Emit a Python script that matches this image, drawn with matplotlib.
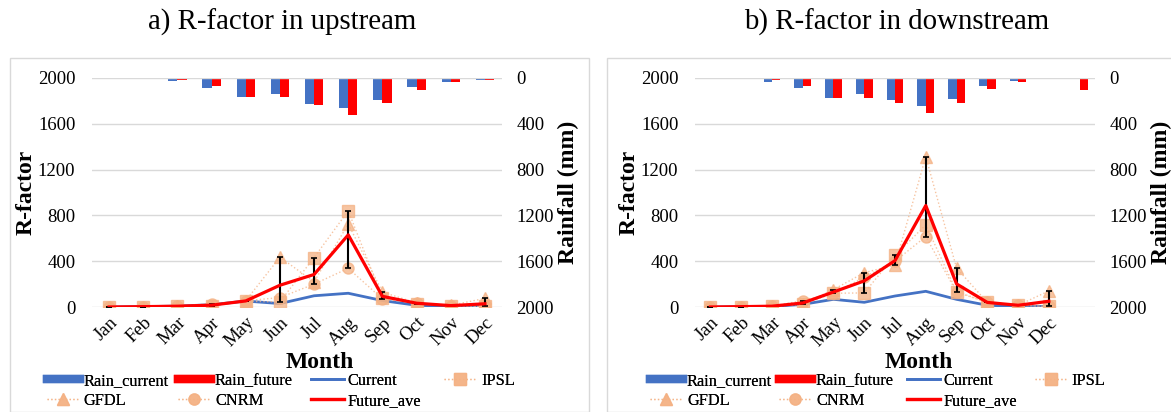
import matplotlib
matplotlib.use("Agg")
import matplotlib.pyplot as plt
import numpy as np
from matplotlib.patches import Rectangle
from matplotlib.lines import Line2D

plt.rcParams["font.family"] = ["Liberation Serif", "DejaVu Serif"]

months = ["Jan", "Feb", "Mar", "Apr", "May", "Jun", "Jul", "Aug", "Sep", "Oct", "Nov", "Dec"]

# a) upstream
up_rain_current = [2, 6, 29, 87, 168, 139, 226, 258, 188, 81, 32, 14]
up_rain_future = [2, 9, 20, 70, 168, 168, 238, 319, 220, 101, 38, 14]
up_current = [0, 3, 8, 20, 52, 30, 98, 120, 56, 15, 5, 8]
up_ipsl = [0, 2, 5, 10, 50, 45, 432, 840, 80, 30, 10, 5]
up_gfdl = [0, 3, 8, 10, 55, 435, 220, 725, 130, 35, 15, 75]
up_cnrm = [0, 3, 8, 28, 55, 82, 200, 338, 70, 35, 12, 5]
up_future_ave = [0, 3, 7, 16, 53, 190, 284, 630, 93, 33, 12, 28]

# b) downstream (the rainfall bars have a 13th, unlabelled category)
dn_labels = months + [""]
dn_rain_current = [2, 9, 33, 83, 172, 139, 193, 246, 187, 74, 24, 6, 0]
dn_rain_future = [2, 9, 21, 68, 172, 172, 222, 308, 216, 92, 33, 12, 107]
dn_current = [0, 2, 5, 23, 67, 41, 96, 137, 67, 15, 5, 5]
dn_ipsl = [0, 2, 5, 25, 120, 123, 450, 717, 135, 40, 15, 5]
dn_gfdl = [0, 3, 8, 25, 152, 300, 367, 1313, 340, 40, 15, 140]
dn_cnrm = [0, 3, 8, 55, 120, 260, 400, 615, 130, 40, 15, 5]
dn_future_ave = [0, 3, 7, 35, 131, 228, 405, 886, 202, 40, 15, 50]

BLUE = "#4472C4"
RED = "#FF0000"
ORANGE = "#F4B183"
GRID = "#D9D9D9"

W, H = 1171, 412


def fx(px):
    return px / W


def fy(py):
    return 1 - py / H


def draw_panel(fig, rect, labels, rain_cur, rain_fut, cur, ipsl, gfdl, cnrm, fut_ave,
               month_px, legend_cols_px):
    ax = fig.add_axes(rect)
    ax2 = ax.twinx()
    ax.set_zorder(ax2.get_zorder() + 1)
    ax.patch.set_visible(False)

    n = len(labels)
    xb = np.arange(len(rain_cur))
    bw = 0.27
    ax2.bar(xb - bw / 2, rain_cur, width=bw, color=BLUE, label="Rain_current")
    ax2.bar(xb + bw / 2, rain_fut, width=bw, color=RED, label="Rain_future")
    ax2.set_ylim(2000, 0)
    ax2.set_yticks(np.arange(0, 2001, 400))

    x = np.arange(len(cur))
    ax.plot(x, cur, color=BLUE, lw=2, label="Current")
    mk = dict(ls=":", lw=1.0, color=ORANGE, markersize=8, markerfacecolor=ORANGE,
              markeredgecolor=ORANGE, alpha=0.75)
    ax.plot(x, ipsl, marker="s", label="IPSL", **mk)
    ax.plot(x, gfdl, marker="^", label="GFDL", **mk)
    ax.plot(x, cnrm, marker="o", label="CNRM", **mk)
    models = np.array([ipsl, gfdl, cnrm])
    ave = np.array(fut_ave)
    lo = np.clip(ave - models.min(axis=0), 0, None)
    hi = np.clip(models.max(axis=0) - ave, 0, None)
    ax.errorbar(x, ave, yerr=[lo, hi], fmt="none", ecolor="black", elinewidth=1.5,
                capsize=2.5, capthick=1.2, zorder=4)
    ax.plot(x, fut_ave, color=RED, lw=2.3, label="Future_ave", zorder=5)

    ax.set_xlim(-0.5, n - 0.5)
    ax.set_ylim(0, 2000)
    ax.set_yticks(np.arange(0, 2001, 400))
    ax.set_xticks(np.arange(n))
    ax.set_xticklabels(labels, rotation=45, ha="right", rotation_mode="anchor")
    ax.grid(axis="y", color=GRID, lw=1)
    ax.set_axisbelow(True)
    for a in (ax, ax2):
        for s in a.spines.values():
            s.set_visible(False)
        a.tick_params(length=0, labelsize=13.5)
    ax.tick_params(axis="y", pad=12)
    ax2.tick_params(axis="y", pad=10.5)
    ax.tick_params(axis="x", pad=5)

    ax.set_ylabel("R-factor", fontsize=17, fontweight="bold", labelpad=1)
    ax2.set_ylabel("Rainfall (mm)", fontsize=17, fontweight="bold", labelpad=3)
    fig.text(fx(month_px), fy(352), "Month", ha="center", va="top",
             fontsize=17, fontweight="bold")

    handles_a, labels_a = ax2.get_legend_handles_labels()
    handles_b, labels_b = ax.get_legend_handles_labels()
    hd = dict(zip(labels_a + labels_b, handles_a + handles_b))
    hd["Rain_current"] = Line2D([], [], color=BLUE, lw=6)
    hd["Rain_future"] = Line2D([], [], color=RED, lw=6)
    columns = [["Rain_current", "GFDL"], ["Rain_future", "CNRM"],
               ["Current", "Future_ave"], ["IPSL"]]
    for col, hx in zip(columns, legend_cols_px):
        leg = fig.legend([hd[k] for k in col], col, loc="upper left",
                         bbox_to_anchor=(fx(hx), fy(373)), ncol=1, frameon=False,
                         fontsize=11.8, handlelength=2.0, handletextpad=0.25,
                         labelspacing=0.25, borderpad=0, borderaxespad=0)
        fig.add_artist(leg)
    return ax


fig = plt.figure(figsize=(W / 100, H / 100), dpi=100)

fig.patches.append(Rectangle((fx(10), 0), fx(579), fy(58), transform=fig.transFigure,
                             fill=False, edgecolor=GRID, lw=1))
fig.patches.append(Rectangle((fx(607), 0), fx(570), fy(58), transform=fig.transFigure,
                             fill=False, edgecolor=GRID, lw=1))

fig.text(fx(282), fy(22), "a) R-factor in upstream", ha="center", va="center", fontsize=20.8)
fig.text(fx(897), fy(22), "b) R-factor in downstream", ha="center", va="center", fontsize=20.8)

draw_panel(fig, [fx(92), fy(307), fx(410), fy(78) - fy(307)], months,
           up_rain_current, up_rain_future, up_current, up_ipsl, up_gfdl, up_cnrm,
           up_future_ave, 320, [47, 178, 311, 444])
draw_panel(fig, [fx(695), fy(307), fx(400), fy(78) - fy(307)], dn_labels,
           dn_rain_current, dn_rain_future, dn_current, dn_ipsl, dn_gfdl, dn_cnrm,
           dn_future_ave, 919, [650, 779, 907, 1035])

fig.savefig("out.png", dpi=100)
